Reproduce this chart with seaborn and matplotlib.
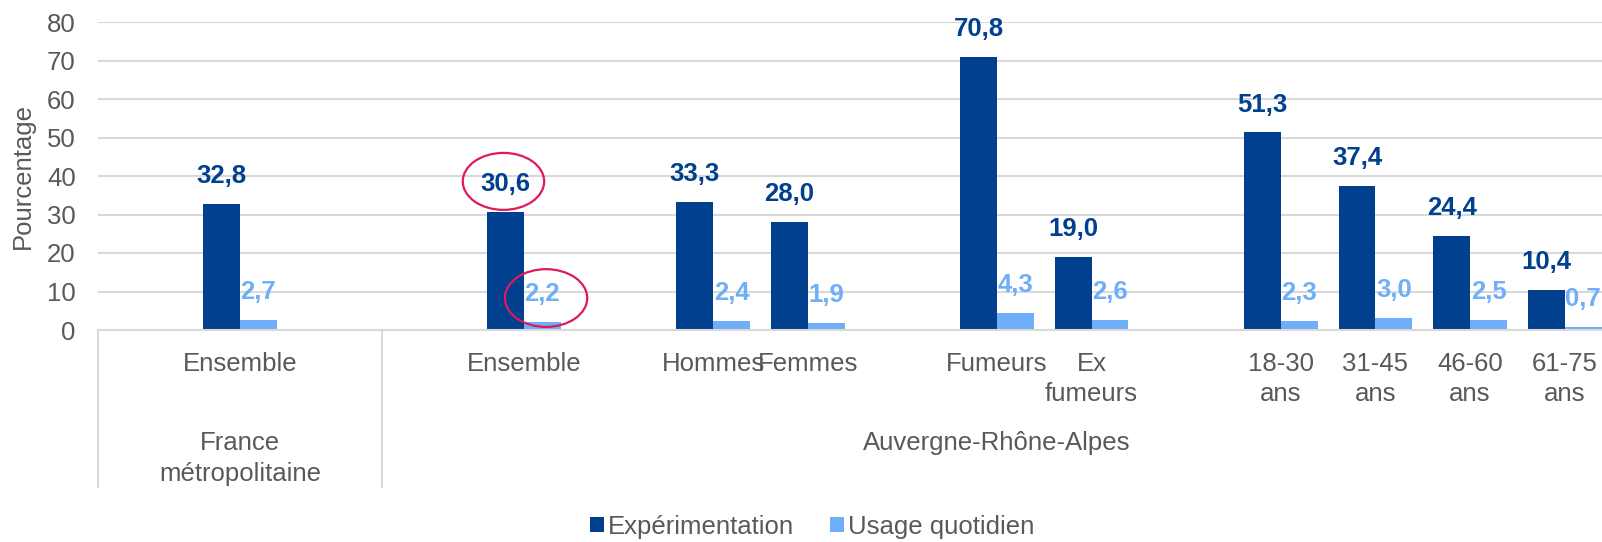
import matplotlib
matplotlib.use("Agg")
import matplotlib.pyplot as plt
from matplotlib.patches import Ellipse
import seaborn as sns
import pandas as pd

# Données
groupes = ["France\nmétropolitaine", "Auvergne-Rhône-Alpes"]
categories = ["Ensemble", "Ensemble", "Hommes", "Femmes", "Fumeurs", "Ex\nfumeurs",
              "18-30\nans", "31-45\nans", "46-60\nans", "61-75\nans"]
experimentation = [32.8, 30.6, 33.3, 28.0, 70.8, 19.0, 51.3, 37.4, 24.4, 10.4]
usage_quotidien = [2.7, 2.2, 2.4, 1.9, 4.3, 2.6, 2.3, 3.0, 2.5, 0.7]
series = ["Expérimentation", "Usage quotidien"]

# Emplacements sur l'axe (None = emplacement vide, comme dans le graphique Excel)
slots = [None, 0, None, None, 1, None, 2, 3, None, 4, 5, None, 6, 7, 8, 9]
# étendue de chaque groupe (premier et dernier emplacement)
etendue = [(0, 2), (3, 15)]

keys = [f"c{i}" for i in range(len(categories))]
order = [keys[s] if s is not None else f"vide{i}" for i, s in enumerate(slots)]

df = pd.DataFrame({
    "cle": keys * 2,
    "valeur": experimentation + usage_quotidien,
    "serie": [series[0]] * len(keys) + [series[1]] * len(keys),
})

bleu_fonce = "#00408F"
bleu_clair = "#6FAEF8"
gris = "#595959"
gris_ligne = "#D9D9D9"

sns.set_style("white")
plt.rcParams["font.family"] = ["Liberation Sans", "DejaVu Sans"]
fs = 18.5

fig = plt.figure(figsize=(16.02, 5.42), dpi=100)
ax = fig.add_axes([98 / 1602, 212 / 542, 1514 / 1602, 308 / 542])

sns.barplot(data=df, x="cle", y="valeur", hue="serie", order=order,
            palette=[bleu_fonce, bleu_clair], saturation=1, width=0.78,
            gap=0, ax=ax, linewidth=0)

ax.set_ylim(0, 80)
ax.set_xlim(-0.5, len(slots) - 0.5)
ax.set_yticks(range(0, 81, 10))
ax.yaxis.grid(True, color=gris_ligne, lw=1.5)
ax.set_axisbelow(True)
for s in ["top", "right", "left"]:
    ax.spines[s].set_visible(False)
ax.spines["bottom"].set_color(gris_ligne)
ax.spines["bottom"].set_linewidth(1.5)
ax.tick_params(axis="y", length=0, pad=16, labelsize=fs, labelcolor=gris)
ax.tick_params(axis="x", length=0)
ax.set_xticklabels([])
ax.set_xlabel("")
ax.set_ylabel("Pourcentage", fontsize=fs, color=gris, labelpad=9)

# Étiquettes de données
for cont, col in zip(ax.containers, [bleu_fonce, bleu_clair]):
    labels = [f"{b.get_height():.1f}".replace(".", ",") for b in cont]
    ax.bar_label(cont, labels=labels, padding=11.5, color=col,
                 fontsize=fs, fontweight="bold")

# Étiquettes de catégories (niveau 1)
for pos, s in enumerate(slots):
    if s is None:
        continue
    ax.annotate(categories[s], xy=(pos, 0), xycoords=("data", "axes fraction"),
                xytext=(0, -15.5), textcoords="offset points", ha="center",
                va="top", fontsize=fs, color=gris, linespacing=1.35,
                annotation_clip=False)

# Étiquettes de groupes (niveau 2) et séparateurs
for nom, (first, last) in zip(groupes, etendue):
    ax.annotate(nom, xy=((first + last) / 2, 0), xycoords=("data", "axes fraction"),
                xytext=(0, -73), textcoords="offset points", ha="center",
                va="top", fontsize=fs, color=gris, linespacing=1.35,
                annotation_clip=False)

for xsep in [-0.5, 2.5]:
    ax.plot([xsep, xsep], [0, -40.8], color=gris_ligne, lw=1.5, clip_on=False)

# Cercles rouges autour de l'ensemble régional
idx = order.index(keys[1])
d = 0.78 / 4
ax.add_patch(Ellipse((idx - d - 0.02, experimentation[1] + 8), 0.86, 14.8,
                     fill=False, ec="#E0185C", lw=1.6, clip_on=False))
ax.add_patch(Ellipse((idx + d + 0.04, usage_quotidien[1] + 6.1), 0.87, 15,
                     fill=False, ec="#E0185C", lw=1.6, clip_on=False))

sns.move_legend(ax, "center", bbox_to_anchor=(0.507, 0.028),
                bbox_transform=fig.transFigure, ncol=2, frameon=False,
                title=None, fontsize=fs, handlelength=0.55, handleheight=0.55,
                handletextpad=0.15, columnspacing=1.4)
for t in ax.get_legend().get_texts():
    t.set_color(gris)

fig.savefig("out.png", dpi=100)
